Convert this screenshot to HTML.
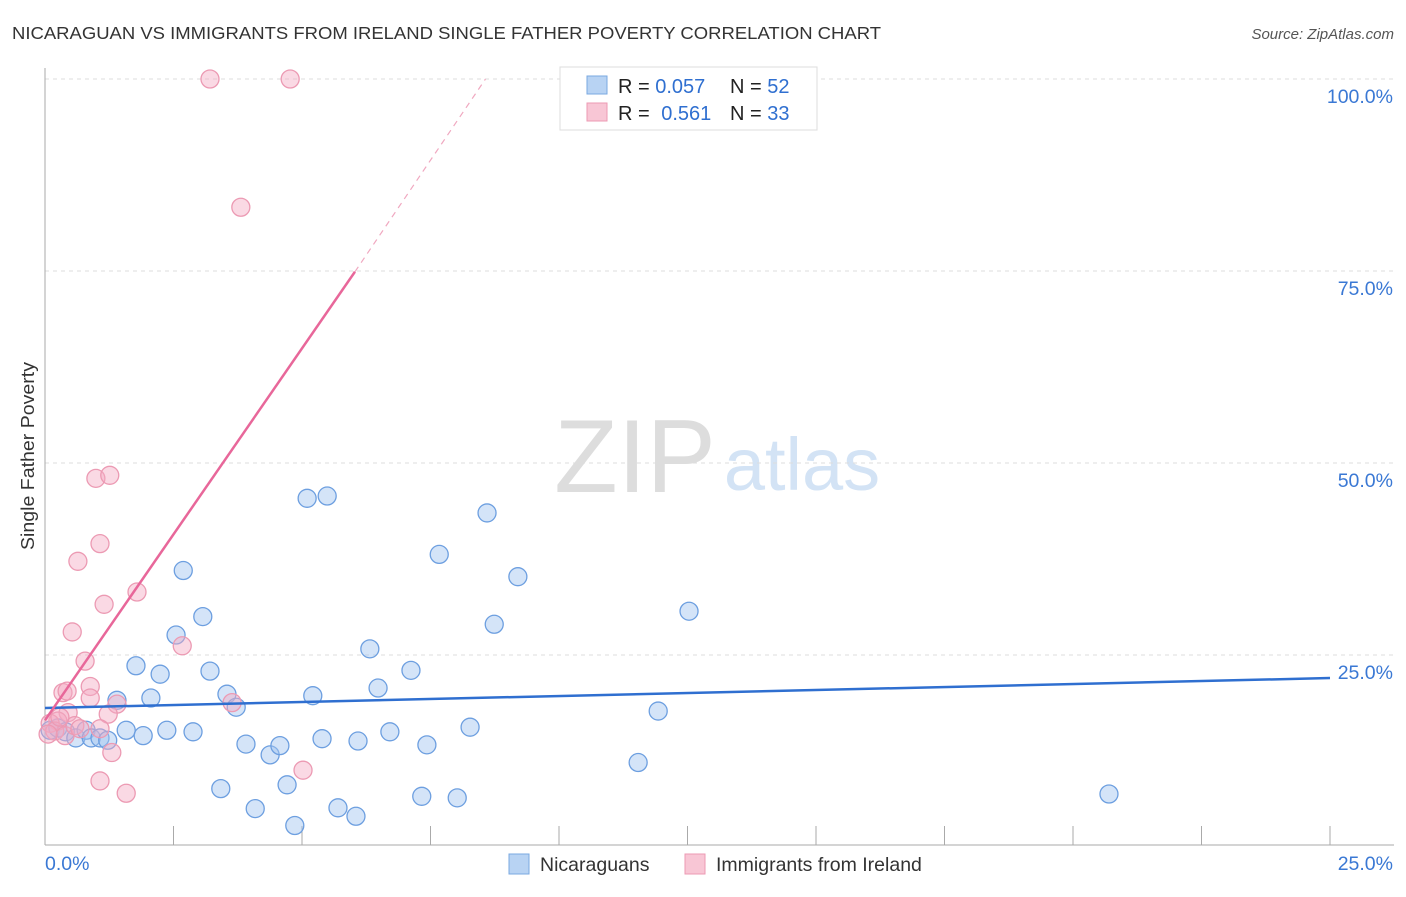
<!DOCTYPE html>
<html><head><meta charset="utf-8"><style>
body{margin:0;background:#fff;font-family:"Liberation Sans",sans-serif;}
svg text{font-family:"Liberation Sans",sans-serif;}
</style></head><body>
<svg id="chart" width="1406" height="892" xmlns="http://www.w3.org/2000/svg">
<text x="12" y="39" font-size="17.5" fill="#333" textLength="869" lengthAdjust="spacingAndGlyphs">NICARAGUAN VS IMMIGRANTS FROM IRELAND SINGLE FATHER POVERTY CORRELATION CHART</text>
<text x="1394" y="39" font-size="15" fill="#555" font-style="italic" text-anchor="end">Source: ZipAtlas.com</text>
<text transform="translate(34,456) rotate(-90)" font-size="18" fill="#333" text-anchor="middle" textLength="188" lengthAdjust="spacingAndGlyphs">Single Father Poverty</text>
<g>
<text x="635" y="492" font-size="104" fill="#ddd" font-family="Liberation Serif" text-anchor="middle">ZIP</text>
<text x="802" y="490" font-size="74" fill="#d3e3f5" text-anchor="middle">atlas</text>
</g>
<g id="grid"></g><g id="axes"></g><g id="pts"></g><g id="trends"></g>
<g>
<rect x="560" y="67" width="257" height="63" fill="#fff" stroke="#ddd"/>
<rect x="587" y="76" width="20" height="18" fill="#b8d3f3" stroke="#7aa8e0"/>
<rect x="587" y="103" width="20" height="18" fill="#f8c6d5" stroke="#ec9ab3"/>
<text x="618" y="93" font-size="20" fill="#222">R = <tspan fill="#2f6fd0">0.057</tspan></text>
<text x="730" y="93" font-size="20" fill="#222">N = <tspan fill="#2f6fd0">52</tspan></text>
<text x="618" y="120" font-size="20" fill="#222">R = <tspan fill="#2f6fd0" dx="6">0.561</tspan></text>
<text x="730" y="120" font-size="20" fill="#222">N = <tspan fill="#2f6fd0">33</tspan></text>
</g>
<g>
<rect x="509" y="854" width="20" height="20" fill="#b8d3f3" stroke="#7aa8e0"/>
<text x="540" y="871" font-size="19.5" fill="#333">Nicaraguans</text>
<rect x="685" y="854" width="20" height="20" fill="#f8c6d5" stroke="#ec9ab3"/>
<text x="716" y="871" font-size="19.5" fill="#333">Immigrants from Ireland</text>
</g>
</svg>
<script>
const yTicks=[25,50,75,100];
const yTickLabels=["25.0%","50.0%","75.0%","100.0%"];
const xTickCount=10;
const blueX=[0.1,0.25,0.4,0.6,0.8,0.9,1.07,1.22,1.4,1.58,1.77,1.91,2.06,2.24,2.37,2.55,2.69,2.88,3.07,3.21,3.42,3.54,3.72,3.91,4.09,4.38,4.57,4.71,4.86,5.1,5.21,5.39,5.49,5.7,6.05,6.09,6.32,6.48,6.71,7.12,7.33,7.43,7.67,8.02,8.27,8.6,8.74,9.2,11.54,11.93,12.53,20.70];
const blueY=[15.2,15.5,15.0,14.2,15.2,14.2,14.2,13.9,19.1,15.2,23.6,14.5,19.4,22.5,15.2,27.6,36.0,15.0,30.0,22.9,7.6,19.9,18.2,13.4,5.0,12.0,13.2,8.1,2.8,45.4,19.7,14.1,45.7,5.1,4.0,13.8,25.8,20.7,15.0,23.0,6.6,13.3,38.1,6.4,15.6,43.5,29.0,35.2,11.0,17.7,30.7,6.9];
const pinkX=[3.21,4.77,3.81,0.99,1.26,0.64,1.07,1.15,1.79,0.53,2.67,0.78,0.35,0.43,0.88,0.88,1.40,1.23,0.45,0.25,0.10,0.19,0.39,0.58,1.07,3.64,1.30,1.07,1.58,5.02,0.06,0.29,0.68];
const pinkY=[100,100,83.3,48.0,48.4,37.2,39.5,31.6,33.2,28.0,26.2,24.2,20.1,20.3,20.9,19.4,18.6,17.3,17.5,16.4,16.1,15.1,14.5,15.8,15.4,18.8,12.3,8.6,7.0,10.0,14.7,16.9,15.4];
const blueTrend=[0,18.1,25,22.0];
const pinkTrend=[0,16.5,6.03,74.9];
const pinkDashEnd=[8.57,100];
const NS="http://www.w3.org/2000/svg";
const X0=45,X1=1330,Y0=847,Y100=79;
const sx=v=>X0+(X1-X0)*v/25;
const sy=v=>Y0-(Y0-Y100)*v/100;
function mk(tag,attrs,parent){const e=document.createElementNS(NS,tag);for(const k in attrs)e.setAttribute(k,attrs[k]);parent.appendChild(e);return e;}
const grid=document.getElementById('grid'),axes=document.getElementById('axes'),pts=document.getElementById('pts'),tr=document.getElementById('trends');
yTicks.forEach((t,i)=>{
  const l=mk('line',{x1:X0,x2:1394,y1:sy(t),y2:sy(t),stroke:'#ddd','stroke-dasharray':'4,4'},grid);
  
  
  const tx=mk('text',{x:1393,y:sy(t)+24,'font-size':19.5,fill:'#3a78d4','text-anchor':'end'},axes);
  tx.textContent=yTickLabels[i];
  
  
});
let a=mk('line',{x1:X0,x2:X0,y1:68,y2:845,stroke:'#aaa'},axes);


a=mk('line',{x1:X0,x2:1394,y1:845,y2:845,stroke:'#aaa'},axes);


for(let i=1;i<=xTickCount;i++){
  const t=mk('line',{x1:sx(i*2.5),x2:sx(i*2.5),y1:826,y2:845,stroke:'#aaa'},axes);
  
  
}
let xl=mk('text',{x:45,y:870,'font-size':19.5,fill:'#3a78d4'},axes);xl.textContent='0.0%';


xl=mk('text',{x:1393,y:870,'font-size':19.5,fill:'#3a78d4','text-anchor':'end'},axes);xl.textContent='25.0%';


blueX.forEach((x,i)=>{
  const c=mk('circle',{cx:sx(x),cy:sy(blueY[i]),r:9,fill:'rgba(160,196,240,0.45)',stroke:'#6d9fe0','stroke-width':1.3},pts);
  
  
});
pinkX.forEach((x,i)=>{
  const c=mk('circle',{cx:sx(x),cy:sy(pinkY[i]),r:9,fill:'rgba(245,170,195,0.45)',stroke:'#ec9ab3','stroke-width':1.3},pts);
  
  
});
let ln=mk('line',{x1:sx(blueTrend[0]),y1:sy(blueTrend[1]),x2:sx(blueTrend[2]),y2:sy(blueTrend[3]),stroke:'#2f6fd0','stroke-width':2.5},tr);


ln=mk('line',{x1:sx(pinkTrend[0]),y1:sy(pinkTrend[1]),x2:sx(pinkTrend[2]),y2:sy(pinkTrend[3]),stroke:'#e8679a','stroke-width':2.5},tr);


ln=mk('line',{x1:sx(pinkTrend[2]),y1:sy(pinkTrend[3]),x2:sx(pinkDashEnd[0]),y2:sy(pinkDashEnd[1]),stroke:'#f0a8c0','stroke-width':1.2,'stroke-dasharray':'6,5'},tr);


</script>
</body></html>
